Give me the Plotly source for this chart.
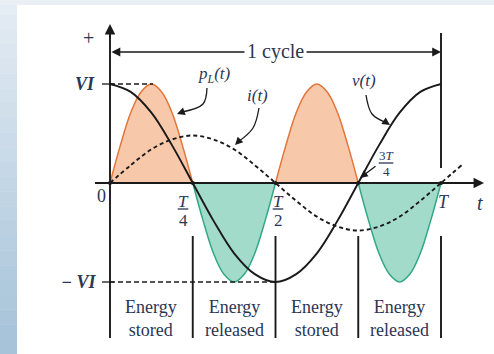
import plotly.graph_objects as go

# ---- data (in units of T for time, VI for amplitude) ----
t16 = [i / 16 for i in range(18)]                       # 0 .. 17/16 T
v_vals = [1.0, 0.92, 0.71, 0.38, 0.0, -0.38, -0.71, -0.92, -1.0,
          -0.92, -0.71, -0.38, 0.0, 0.38, 0.71, 0.92, 1.0]
i_vals = [0.0, 0.18, 0.34, 0.44, 0.48, 0.44, 0.34, 0.18, 0.0,
          -0.18, -0.34, -0.44, -0.48, -0.44, -0.34, -0.18, 0.0, 0.18]
t32 = [i / 32 for i in range(33)]
p_vals = [0.0, 0.38, 0.71, 0.92, 1.0, 0.92, 0.71, 0.38, 0.0,
          -0.38, -0.71, -0.92, -1.0, -0.92, -0.71, -0.38, 0.0,
          0.38, 0.71, 0.92, 1.0, 0.92, 0.71, 0.38, 0.0,
          -0.38, -0.71, -0.92, -1.0, -0.92, -0.71, -0.38, 0.0]
quarters = [0.0, 0.25, 0.5, 0.75, 1.0]
region_labels = ["Energy<br>stored", "Energy<br>released", "Energy<br>stored", "Energy<br>released"]

# ---- pixel helpers (figure 494x354, zero margins) ----
X0, XS = 110.0, 331.0
Y0, YS = 183.0, 99.0
def tx(px): return (px - X0) / XS
def vy(py): return (Y0 - py) / YS

W, H = 494, 354
TXT = "#2b3654"
FONT = "Liberation Serif"
ORANGE_F, ORANGE_L = "rgba(247,190,155,0.85)", "#e2763c"
TEAL_F, TEAL_L = "rgba(140,210,190,0.8)", "#34a886"

fig = go.Figure()

# power lobes
for k in range(4):
    ts = t32[k * 8:k * 8 + 9]
    ps = p_vals[k * 8:k * 8 + 9]
    pos = k % 2 == 0
    fig.add_trace(go.Scatter(x=ts, y=ps, mode="lines", line_shape="spline",
                             fill="tozeroy",
                             fillcolor=ORANGE_F if pos else TEAL_F,
                             line=dict(color=ORANGE_L if pos else TEAL_L, width=1.5),
                             hoverinfo="skip", showlegend=False))

# voltage (solid) and current (dashed)
fig.add_trace(go.Scatter(x=t16[:17], y=v_vals, mode="lines", line_shape="spline",
                         line=dict(color="#1a1a1a", width=1.9), showlegend=False))
fig.add_trace(go.Scatter(x=t16, y=i_vals, mode="lines", line_shape="spline",
                         line=dict(color="#1a1a1a", width=1.9, dash="4px,3px"),
                         showlegend=False))

# dashed level lines VI and -VI
fig.add_trace(go.Scatter(x=[0, tx(153)], y=[1, 1], mode="lines",
                         line=dict(color="#1a1a1a", width=1.4, dash="5px,3px"), showlegend=False))
fig.add_trace(go.Scatter(x=[0, 0.5], y=[-1, -1], mode="lines",
                         line=dict(color="#1a1a1a", width=1.4, dash="5px,3px"), showlegend=False))

# dots at zero crossings
fig.add_trace(go.Scatter(x=quarters, y=[0] * 5, mode="markers",
                         marker=dict(color="#1a1a1a", size=4), showlegend=False))

shapes = []
# background strips
n = 24
for k in range(n):
    f = k / (n - 1)
    r = int(228 - (228 - 166) * f); g = int(236 - (236 - 195) * f); b = int(244 - (244 - 217) * f)
    shapes.append(dict(type="rect", xref="paper", yref="paper", x0=0, x1=17 / W,
                       y0=1 - (k + 1) / n, y1=1 - k / n + 0.001,
                       fillcolor=f"rgb({r},{g},{b})", line_width=0, layer="below"))
shapes.append(dict(type="rect", xref="paper", yref="paper", x0=0, x1=1,
                   y0=1 - 5 / H, y1=1, fillcolor="#e9eff5", line_width=0, layer="below"))

LW = 1.9
line = dict(color="#1a1a1a", width=LW)
# axes
shapes.append(dict(type="line", x0=tx(95), x1=tx(478), y0=0, y1=0, line=line))
shapes.append(dict(type="line", x0=0, x1=0, y0=vy(338), y1=vy(30), line=line))
# vertical lines
shapes.append(dict(type="line", x0=1, x1=1, y0=vy(168), y1=vy(33), line=line))
for q in quarters[1:]:
    shapes.append(dict(type="line", x0=q, x1=q, y0=vy(338), y1=vy(236), line=line))
# y ticks at VI, -VI
for lv in (1, -1):
    shapes.append(dict(type="line", x0=tx(102), x1=tx(114), y0=lv, y1=lv,
                       line=dict(color="#1a1a1a", width=1.3)))
# fraction bars
for cx, cy, hw in ((tx(183), vy(209), 0.016), (tx(278), vy(209), 0.016), (tx(386), vy(163), 0.022)):
    shapes.append(dict(type="line", x0=cx - hw, x1=cx + hw, y0=cy, y1=cy,
                       line=dict(color=TXT, width=1.3)))

# curved pointer arrows (body as spline line)
pointer_paths = [
    [(207, 88), (203, 104), (182, 112)],
    [(259, 108), (253, 128), (238, 142)],
    [(366, 95), (372, 114), (387, 123)],
]
for pts in pointer_paths:
    fig.add_trace(go.Scatter(x=[tx(p[0]) for p in pts], y=[vy(p[1]) for p in pts],
                             mode="lines", line_shape="spline",
                             line=dict(color="#1a1a1a", width=1.3), showlegend=False))

ann = []
def arrow(x, y, ax, ay, width=1.5, head=2, size=1.0, side="end"):
    ann.append(dict(x=x, y=y, ax=ax, ay=ay, xref="x", yref="y", axref="x", ayref="y",
                    text="", showarrow=True, arrowhead=head, startarrowhead=head,
                    arrowsize=size, startarrowsize=size,
                    arrowwidth=width, arrowcolor="#1a1a1a", arrowside=side))

# axis arrowheads
arrow(tx(484), 0, tx(470), 0, width=LW, size=1.1)
arrow(0, vy(24), 0, vy(40), width=LW, size=1.1)
# 1 cycle double arrow
arrow(1, vy(52), 0, vy(52), width=1.6, side="end+start", size=1.1)
# pointer heads
arrow(tx(177), vy(114), tx(185), vy(111), width=1.3, size=1.2)
arrow(tx(235), vy(145), tx(240), vy(140), width=1.3, size=1.2)
arrow(tx(390), vy(125), tx(384), vy(121), width=1.3, size=1.2)
arrow(tx(360), vy(178), tx(377), vy(165), width=1.3, size=1.2)

def label(x, y, text, size=15, color=TXT, bg=None, xanchor="center"):
    d = dict(x=x, y=y, xref="x", yref="y", text=text, showarrow=False,
             font=dict(family=FONT, size=size, color=color), xanchor=xanchor, yanchor="middle")
    if bg:
        d["bgcolor"] = bg
        d["borderpad"] = 2
    ann.append(d)

label(0.5, vy(51), "1 cycle", size=20, color="#2b3550", bg="white")
label(tx(88), vy(38), "+", size=20)
label(tx(85), 1, "<b><i>VI</i></b>", size=18)
label(tx(78), -1, "<b><i>− VI</i></b>", size=18)
label(tx(101), vy(196), "0", size=18)
label(tx(183), vy(201), "<i>T</i>", size=17)
label(tx(183), vy(220), "4", size=17)
label(tx(278), vy(201), "<i>T</i>", size=17)
label(tx(278), vy(220), "2", size=17)
label(tx(386), vy(155), "3<i>T</i>", size=13)
label(tx(386), vy(171), "4", size=13)
label(tx(444), vy(202), "<i>T</i>", size=18)
label(tx(480), vy(203), "<i>t</i>", size=20)
label(tx(214), vy(75), "<i>p<sub>L</sub>(t)</i>", size=17)
label(tx(257), vy(95), "<i>i(t)</i>", size=17)
label(tx(364), vy(80), "<i>v(t)</i>", size=17)
for k, txt in enumerate(region_labels):
    label((quarters[k] + quarters[k + 1]) / 2, vy(318), txt, size=18)

fig.update_layout(
    width=W, height=H, margin=dict(l=0, r=0, t=0, b=0),
    paper_bgcolor="white", plot_bgcolor="white",
    xaxis=dict(range=[tx(0), tx(W)], visible=False, fixedrange=True),
    yaxis=dict(range=[vy(H), vy(0)], visible=False, fixedrange=True),
    shapes=shapes, annotations=ann, showlegend=False,
    font=dict(family=FONT),
)
fig.write_html("out.html", config={"displayModeBar": False},
               post_script="document.body.style.margin='0';document.body.style.overflow='hidden';")
